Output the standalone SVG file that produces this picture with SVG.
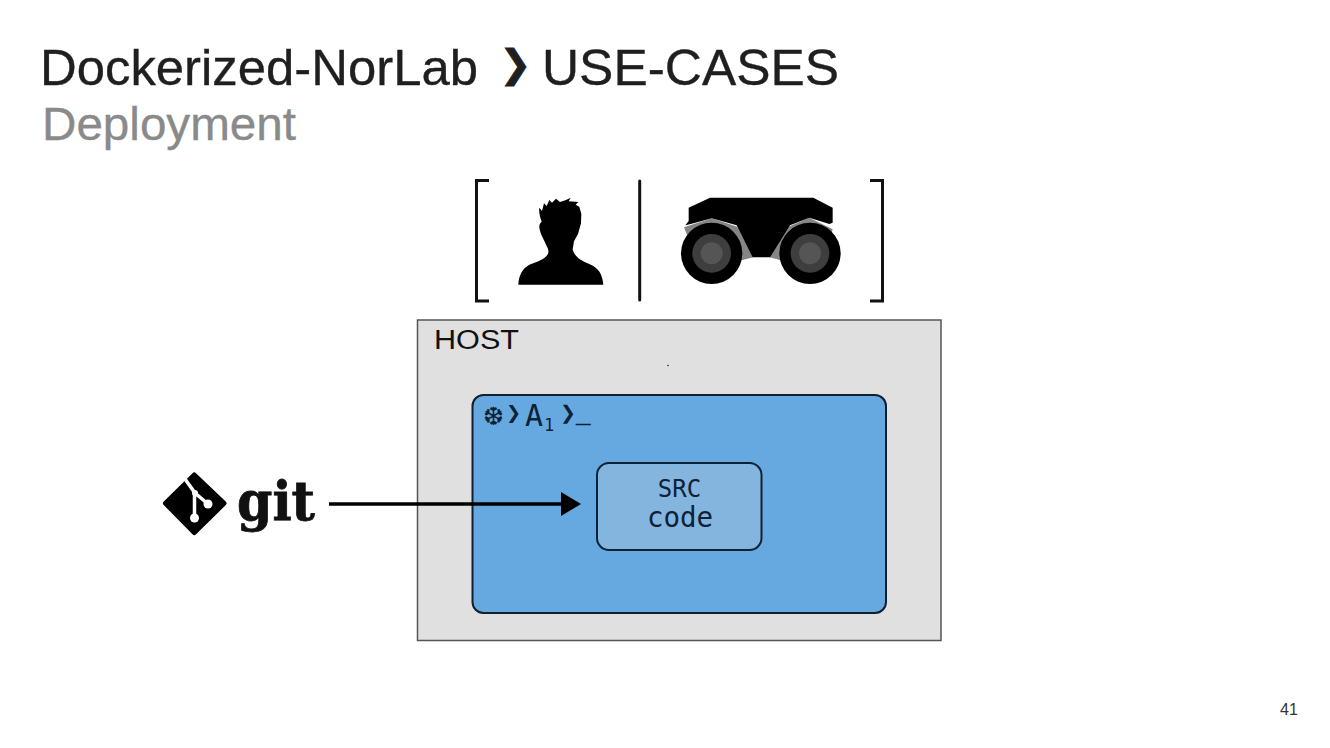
<svg xmlns="http://www.w3.org/2000/svg" width="1330" height="748" viewBox="0 0 1330 748">
<style>
.sans{font-family:"Liberation Sans",Arial,sans-serif}
.mono{font-family:"DejaVu Sans Mono",monospace;fill:#0d2236}
.dv{font-family:"DejaVu Sans",sans-serif}
.br{fill:none;stroke:#111;stroke-width:3}
.ttl{fill:#1f1f1f;stroke:#1f1f1f;stroke-width:.35}
</style>
<defs>
<marker id="ah" markerUnits="userSpaceOnUse" markerWidth="22" markerHeight="24" refX="4" refY="12" orient="auto"><path d="M0 0L20 12L0 24Z" fill="#000"/></marker>
</defs>
<rect width="1330" height="748" fill="#fff"/>
<g id="title">
<text class="sans ttl" x="40" y="85" font-size="50" textLength="438" lengthAdjust="spacingAndGlyphs">Dockerized-NorLab</text>
<text class="dv" x="499.500" y="76.600" font-size="38" fill="#1f1f1f" stroke="#1f1f1f" stroke-width="1">❯</text>
<text class="sans ttl" x="542" y="85" font-size="50" textLength="297" lengthAdjust="spacingAndGlyphs">USE-CASES</text>
<text class="sans" x="42" y="140" font-size="47" fill="#8a8a8a" stroke="#8a8a8a" stroke-width=".35" textLength="254" lengthAdjust="spacingAndGlyphs">Deployment</text>
</g>
<g id="actors">
<path class="br" d="M489 180.500H476.500V301H489"/>
<path class="br" d="M870 180.500H882.500V301H870"/>
<path class="br" d="M639.700 181V300" stroke-linecap="round"/>
<g id="user" transform="translate(460 170) scale(.33333)">
<path fill="#000" d="M175 344C176 318 186 296 208 284C228 276 254 270 264 252C268 240 262 232 258 224C252 208 243 196 240 182C236 170 238 160 245 155C240 140 236 125 238 113L246 123L252 100L260 108L268 90L276 98L288 86L300 96L318 90L332 83L326 94L355 96L347 104L358 110L364 132L363 160L354 192L342 214L338 238C342 258 362 272 388 282C414 292 428 312 430 344Z"/>
</g>
<g id="robot" transform="translate(460 170) scale(.33333)">
<path fill="#858585" d="M672 172L755 145L832 170L880 262L848 270L700 240ZM1118 178L1048 143L985 170L928 262L960 270L1100 240Z"/>
<path fill="#000" d="M686 113L750 83H1060L1118 113V158L1108 162L1048 143L990 166L930 262H878L830 166L755 145L692 162L676 166L686 153Z"/>
<circle cx="755" cy="250" r="92" fill="#000"/>
<circle cx="755" cy="250" r="58" fill="#3e3e3e"/>
<circle cx="755" cy="250" r="33" fill="#555"/>
<circle cx="1050" cy="250" r="92" fill="#000"/>
<circle cx="1050" cy="250" r="58" fill="#3e3e3e"/>
<circle cx="1050" cy="250" r="33" fill="#555"/>
</g>
</g>
<g id="host">
<rect x="417.500" y="320" width="523.500" height="320.500" fill="#e0e0e0" stroke="#555" stroke-width="1.500"/>
<text class="sans" x="434" y="349" font-size="27" fill="#111" textLength="85" lengthAdjust="spacingAndGlyphs">HOST</text>
<circle cx="668" cy="365.500" r=".8" fill="#222"/>
</g>
<g id="container">
<rect x="472.500" y="395" width="413.500" height="218" rx="11" fill="#66a9e0" stroke="#10202e" stroke-width="2"/>
<text class="dv" x="483" y="425" font-size="25" fill="#0d2236">❆</text>
<text class="dv" x="506" y="419" font-size="18" fill="#0d2236">❯</text>
<text class="mono" x="525" y="425.500" font-size="30">A</text>
<text class="mono" x="544" y="431" font-size="17">1</text>
<text class="dv" x="560" y="419" font-size="19" fill="#0d2236">❯</text>
<text class="mono" x="576" y="419" font-size="24" stroke="#0d2236" stroke-width=".6">_</text>
</g>
<g id="src">
<rect x="597" y="463" width="164.500" height="87" rx="12" fill="#84b5de" stroke="#0d2236" stroke-width="2"/>
<text class="mono" x="679.500" y="497" font-size="24" text-anchor="middle">SRC</text>
<text class="mono" x="680" y="527" font-size="27.500" text-anchor="middle">code</text>
</g>
<g id="git">
<path fill="#000" stroke="#000" stroke-width="5" stroke-linejoin="round" d="M194.300 475L224 503.300L194.300 532.500L165.500 503.300Z"/>
<path fill="none" stroke="#fff" stroke-width="3.500" d="M185 479L195 493L208 504M194.500 493V518"/>
<circle cx="194.500" cy="518" r="4.500" fill="#fff"/>
<circle cx="208" cy="504" r="4.500" fill="#fff"/>
<circle cx="195" cy="493" r="3" fill="#fff"/>
<text x="237" y="520" font-family="'DejaVu Serif',serif" font-weight="700" font-size="54" fill="#111" stroke="#111" stroke-width=".8" textLength="78" lengthAdjust="spacingAndGlyphs">git</text>
</g>
<g id="connectors">
<line x1="329" y1="504" x2="565" y2="504" stroke="#000" stroke-width="3.500" marker-end="url(#ah)"/>
</g>
<g id="page">
<text class="sans" x="1280" y="715" font-size="16" fill="#333">41</text>
</g>
</svg>
